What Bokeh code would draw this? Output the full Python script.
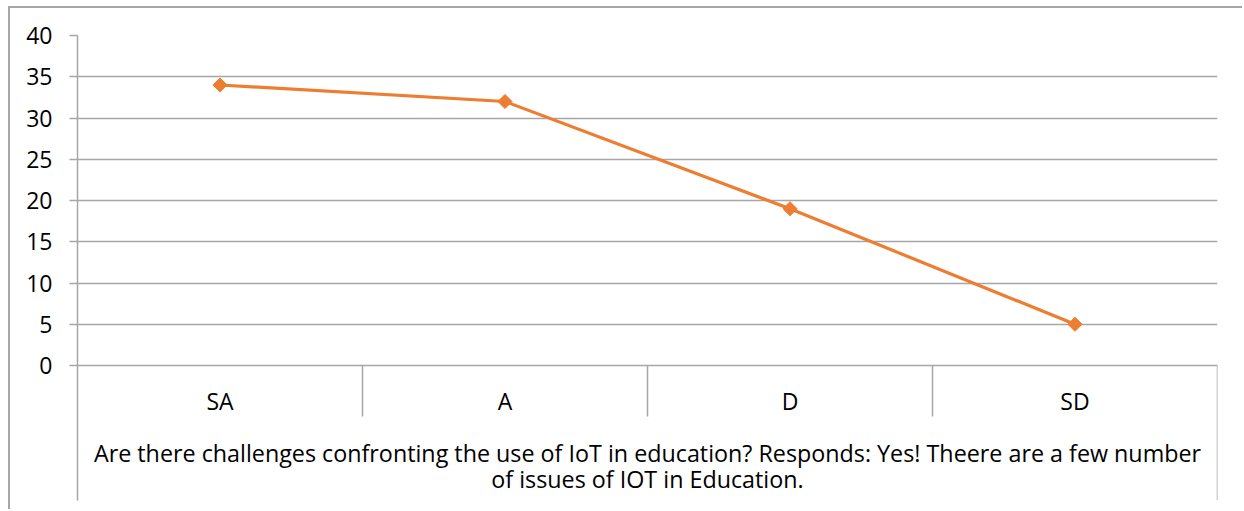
from bokeh.plotting import figure
from bokeh.models import Range1d, FixedTicker, ColumnDataSource
from bokeh.core.properties import value
from bokeh.embed import file_html
from bokeh.resources import INLINE
import numpy as np

# ---- data ----
categories = ["SA", "A", "D", "SD"]
values = [34, 32, 19, 5]
y_ticks = [0, 5, 10, 15, 20, 25, 30, 35, 40]
axis_title_lines = [
    "Are there challenges confronting the use of IoT in education? Responds: Yes! Theere are a few number",
    "of issues of IOT in Education.",
]

FONT = "Open Sans"
FS = "23px"
GRID = "#a6a6a6"
ORANGE = "#ED7D31"
PX = 8.25  # px per data unit on y

W, H = 1234, 503
p = figure(width=W, height=H, output_backend="svg", toolbar_location=None,
           x_range=Range1d(0, len(categories)), y_range=Range1d(-135 / PX, 40),
           min_border_left=67, min_border_right=27, min_border_top=27, min_border_bottom=11)
p.outline_line_color = None
p.xaxis.visible = False
p.xgrid.visible = False

p.yaxis.ticker = FixedTicker(ticks=y_ticks)
p.yaxis.axis_line_color = GRID
p.yaxis.axis_line_width = 1.5
p.yaxis.major_tick_line_color = GRID
p.yaxis.major_tick_line_width = 1.5
p.yaxis.major_tick_out = 8
p.yaxis.major_tick_in = 0
p.yaxis.minor_tick_line_color = None
p.yaxis.major_label_text_font = FONT
p.yaxis.major_label_text_font_size = FS
p.yaxis.major_label_text_color = "#000000"
p.yaxis.major_label_standoff = 17

p.ygrid.ticker = FixedTicker(ticks=y_ticks)
p.ygrid.grid_line_color = GRID
p.ygrid.grid_line_width = 1.5

n = len(categories)
xs = [i + 0.5 for i in range(n)]

# category box separators
sep_x = list(range(1, n))
p.segment(x0=sep_x, y0=[0] * len(sep_x), x1=sep_x, y1=[-51 / PX] * len(sep_x),
          line_color=GRID, line_width=1.5)
p.segment(x0=[n], y0=[0], x1=[n], y1=[-135 / PX], line_color=GRID, line_width=1.5)

# category labels
p.text(x=xs, y=[-35 / PX] * n, text=categories, text_align="center", text_baseline="middle",
       text_font=value(FONT), text_font_size=FS, text_color="#000000")

# axis title (two lines)
p.text(x=[n / 2, n / 2], y=[-87 / PX, -113 / PX], text=axis_title_lines,
       text_align="center", text_baseline="middle",
       text_font=value(FONT), text_font_size="23.3px", text_color="#000000")

src = ColumnDataSource(dict(x=xs, y=values))
p.line("x", "y", source=src, line_color=ORANGE, line_width=3.2)
p.scatter("x", "y", source=src, marker="square", angle=np.pi / 4, size=10,
          fill_color=ORANGE, line_color=ORANGE)

p.styles = {"border-top": "2px solid #a6a6a6", "border-left": "2px solid #a6a6a6",
            "margin-left": "8px", "margin-top": "6px"}

open("out.html", "w").write(file_html(p, INLINE))
